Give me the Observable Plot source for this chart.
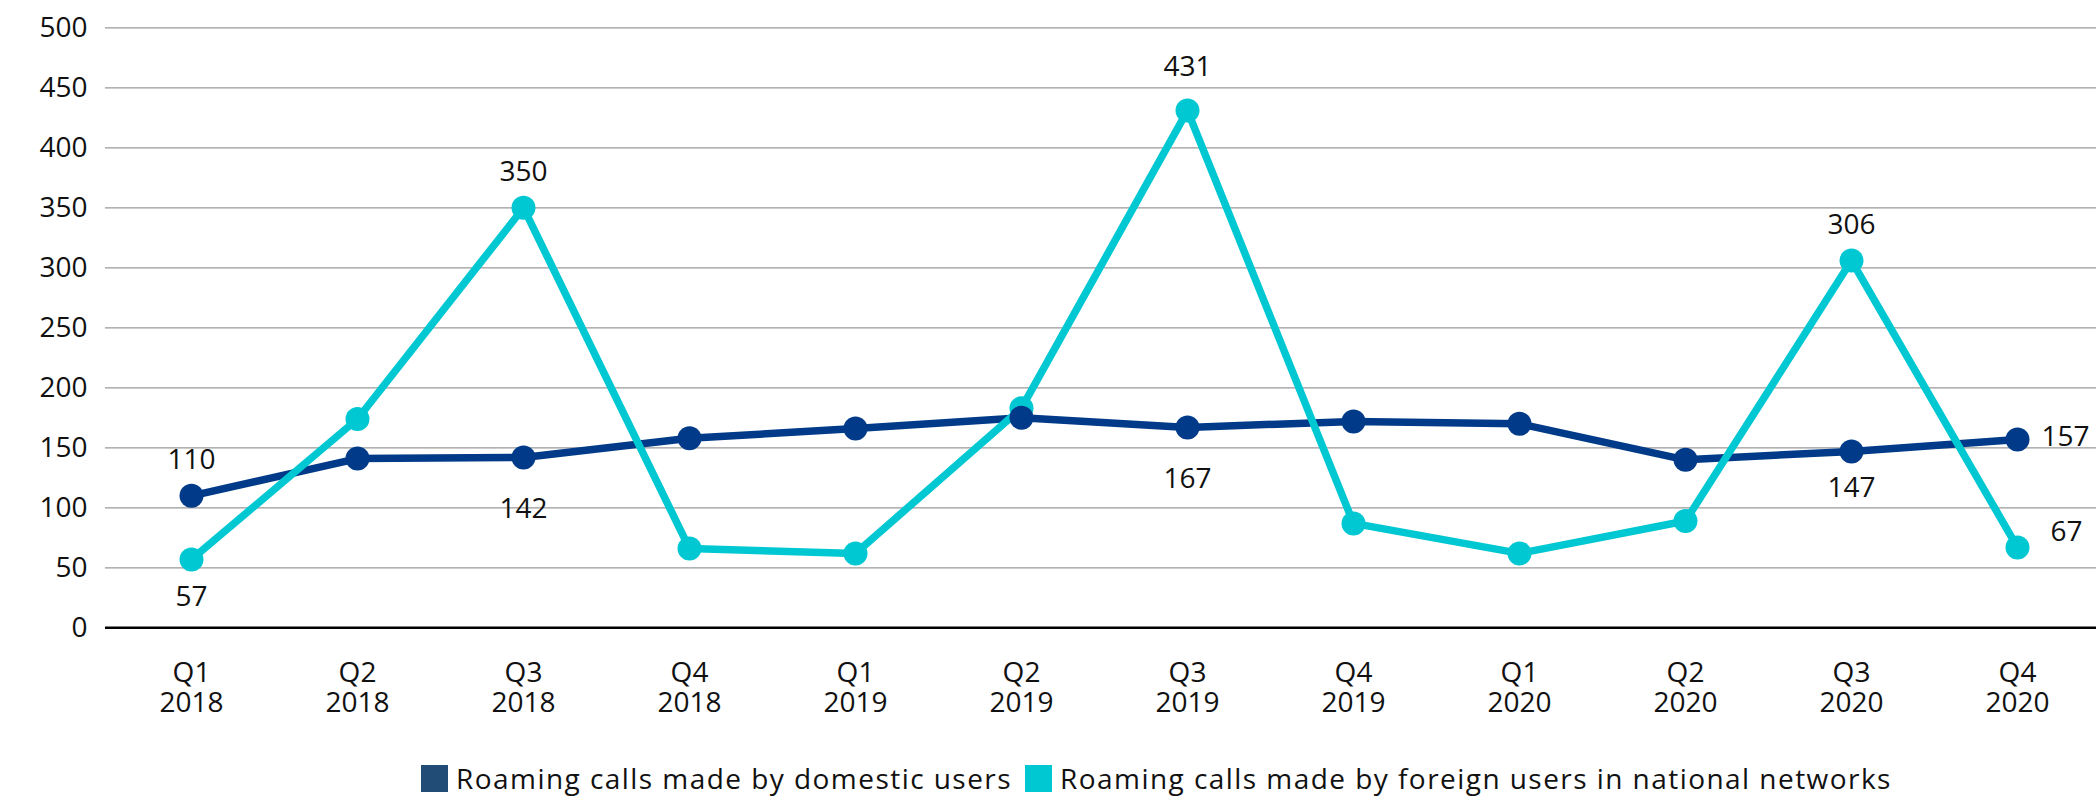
<!DOCTYPE html>
<html>
<head>
<meta charset="utf-8">
<script src="https://cdn.jsdelivr.net/npm/d3@7"></script>
<script src="https://cdn.jsdelivr.net/npm/@observablehq/plot@0.6"></script>
<style>
  html, body { margin: 0; padding: 0; background: #fff; }
  body { width: 2096px; height: 801px; overflow: hidden; color: #111; font-family: "Open Sans", sans-serif; }
  #legend { display: flex; align-items: center; height: 46px; padding-top: 5px; padding-left: 421px; font-size: 28px; letter-spacing: 1.45px; color: #111; }
  .sw { width: 27px; height: 27px; display: inline-block; margin-right: 8px; }
  .item { display: flex; align-items: center; margin-right: 13px; white-space: nowrap; }
</style>
</head>
<body>
<div id="chart"></div>
<div id="legend"></div>
<script>
// ---- data ----
const quarters = ["Q1","Q2","Q3","Q4","Q1","Q2","Q3","Q4","Q1","Q2","Q3","Q4"];
const years    = ["2018","2018","2018","2018","2019","2019","2019","2019","2020","2020","2020","2020"];
const domestic = [110, 141, 142, 158, 166, 175, 167, 172, 170, 140, 147, 157];
const foreign  = [57, 174, 350, 66, 62, 183, 431, 87, 62, 89, 306, 67];
const seriesNames = ["Roaming calls made by domestic users", "Roaming calls made by foreign users in national networks"];
const yTicks = [0, 50, 100, 150, 200, 250, 300, 350, 400, 450, 500];

// ---- build table ----
const periods = quarters.map((q, i) => q + "\n" + years[i]);
const rows = [];
periods.forEach((p, i) => {
  rows.push({period: p, value: domestic[i], series: seriesNames[0]});
  rows.push({period: p, value: foreign[i], series: seriesNames[1]});
});
const dom = rows.filter(d => d.series === seriesNames[0]);
const fgn = rows.filter(d => d.series === seriesNames[1]);

const darkColor = "#003a88";
const cyanColor = "#00c8d2";

// labelled points: [series rows, index, dx, dy]
const labelSpec = [
  [dom, 0, 0, -36], [dom, 2, 0, 52], [dom, 6, 0, 52], [dom, 10, 0, 37], [dom, 11, 48, -2],
  [fgn, 0, 0, 38], [fgn, 2, 0, -36], [fgn, 6, 0, -44], [fgn, 10, 0, -36], [fgn, 11, 49, -15]
];
const labelMarks = labelSpec.map(([arr, i, dx, dy]) =>
  Plot.text([arr[i]], {x: "period", y: "value", text: d => String(d.value), dx, dy, fontSize: 28, fill: "#111"})
);

const chart = Plot.plot({
  width: 2096,
  height: 750,
  marginLeft: 105,
  marginRight: 0,
  marginTop: 27,
  marginBottom: 123,
  style: {fontFamily: "'Open Sans', sans-serif", fontSize: "28px", color: "#111", background: "#fff"},
  x: {type: "point", domain: periods, range: [186, 2021], padding: 0, label: null},
  y: {domain: [0, 500], range: [627.3, 27.3], label: null},
  marks: [
    Plot.ruleY(yTicks.filter(t => t > 0), {stroke: "#999", strokeWidth: 1.3}),
    Plot.ruleY([0], {stroke: "#000", strokeWidth: 2.5}),
    Plot.axisY({ticks: yTicks, tickSize: 0, tickPadding: 18, fontSize: 28, label: null, tickFormat: d => String(d)}),
    Plot.axisX({tickSize: 0, tickPadding: 33, fontSize: 28, lineHeight: 1.07, label: null}),
    Plot.line(dom, {x: "period", y: "value", stroke: darkColor, strokeWidth: 7.5}),
    Plot.line(fgn, {x: "period", y: "value", stroke: cyanColor, strokeWidth: 7.5}),
    Plot.dot(fgn, {x: "period", y: "value", r: 12, fill: cyanColor}),
    Plot.dot(dom, {x: "period", y: "value", r: 12, fill: darkColor}),
    ...labelMarks
  ]
});
document.getElementById("chart").appendChild(chart);

const swatchColors = ["#214c75", cyanColor];
const legend = document.getElementById("legend");
seriesNames.forEach((name, i) => {
  const item = document.createElement("span");
  item.className = "item";
  const sw = document.createElement("span");
  sw.className = "sw";
  sw.style.background = swatchColors[i];
  const t = document.createElement("span");
  t.textContent = name;
  item.appendChild(sw);
  item.appendChild(t);
  legend.appendChild(item);
});
</script>
</body>
</html>
